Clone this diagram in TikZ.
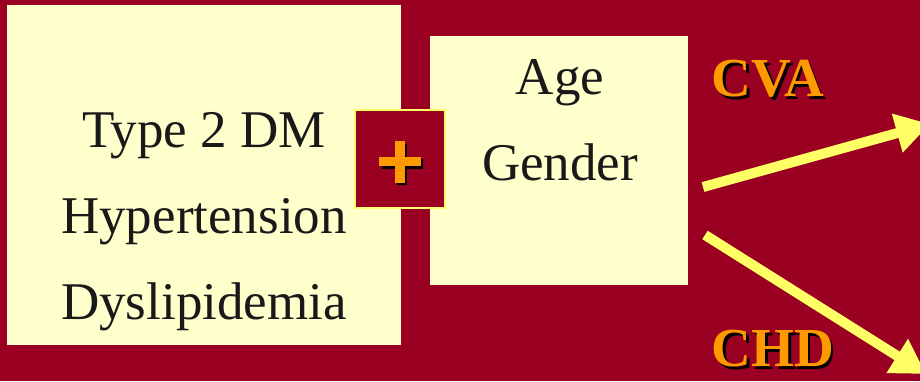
\documentclass[tikz,border=0pt]{standalone}
\usepackage{fontspec}
\setmainfont{Liberation Serif}
\usetikzlibrary{arrows.meta}

\definecolor{slidered}{HTML}{990022}
\definecolor{paleyellow}{HTML}{FFFFCC}
\definecolor{arrowyellow}{HTML}{FFFF66}
\definecolor{labelorange}{HTML}{FF9900}

% orange text with a black drop shadow
\newcommand{\shadowlabel}[1]{\makebox[0pt][l]{\hspace{2.5pt}\raisebox{-2.5pt}{\color{black}#1}}#1}

\tikzset{
  factortext/.style={font=\fontsize{53}{86}\selectfont, align=center, text=black!90},
  outcome/.style={font=\fontsize{55}{60}\selectfont\bfseries, text=labelorange},
  riskarrow/.style={arrowyellow, line width=10pt, -{Triangle[length=34pt,width=38pt]}}
}

\begin{document}
\begin{tikzpicture}[x=1pt,y=-1pt]

    % Slide background
    \fill[slidered] (0,0) rectangle (920,381);
    \useasboundingbox (0,0) rectangle (920,381);
    \clip (0,0) rectangle (920,381);

    % Risk factor box
    \fill[paleyellow] (7,5) rectangle (401,345);
    \node[factortext] (risks) at (204,222) {Type 2 DM\\Hypertension\\Dyslipidemia};

    % Demographic box
    \fill[paleyellow] (430,36) rectangle (688,285);
    \node[factortext] (demog) at (560,120) {Age\\Gender};

    % Plus sign
    \draw[fill=slidered, draw=arrowyellow, line width=1.5pt] (355,110) rectangle (445,208);
    \coordinate (plus) at (400,162);
    \fill[black] ([shift={(-18,-3)}]plus) rectangle ([shift={(23,7)}]plus);
    \fill[black] ([shift={(-3,-18)}]plus) rectangle ([shift={(7,23)}]plus);
    \fill[labelorange] ([shift={(-21,-5)}]plus) rectangle ([shift={(21,4)}]plus);
    \fill[labelorange] ([shift={(-5,-21)}]plus) rectangle ([shift={(5,21)}]plus);

    % Outcome labels
    \node[outcome] (cva) at (768,80) {\shadowlabel{CVA}};
    \node[outcome] (chd) at (773,350) {\shadowlabel{CHD}};

    % Arrows to outcomes
    \coordinate (cvastart) at (703,187);
    \coordinate (cvaend) at (930,124);
    \coordinate (chdstart) at (705,235);
    \coordinate (chdend) at (926,374);
    \draw[riskarrow] (cvastart) -- (cvaend);
    \draw[riskarrow] (chdstart) -- (chdend);

\end{tikzpicture}
\end{document}
